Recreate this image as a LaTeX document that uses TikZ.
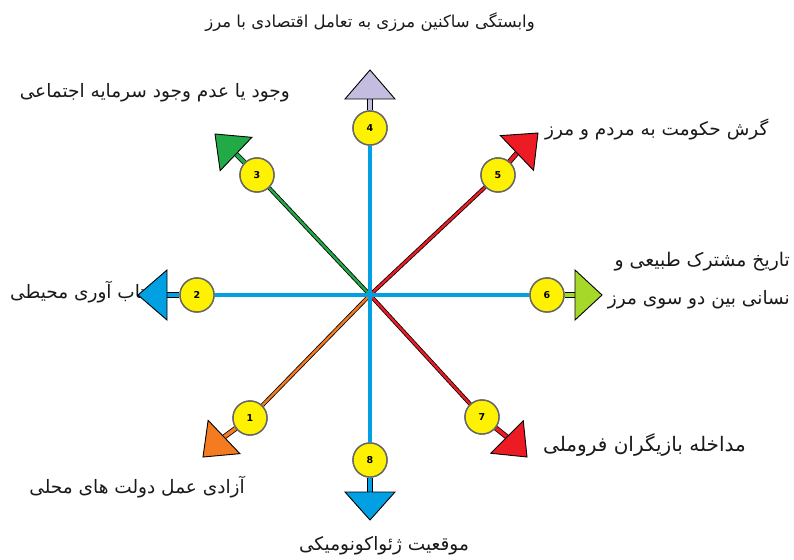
\documentclass[tikz,border=0pt]{standalone}
\usepackage{fontspec}
\usetikzlibrary{calc}
\TeXXeTstate=1
\newfontfamily\arabicfont[Script=Arabic]{DejaVu Sans}
\newfontfamily\numfont{DejaVu Sans}
\definecolor{cblue}{RGB}{0,160,226}
\definecolor{clav}{RGB}{196,189,224}
\definecolor{cgreen}{RGB}{34,170,70}
\definecolor{cred}{RGB}{237,28,36}
\definecolor{corange}{RGB}{244,123,32}
\definecolor{clime}{RGB}{166,216,42}
\definecolor{cyel}{RGB}{255,242,0}
\begin{document}
\begin{tikzpicture}[x=1pt,y=-1pt,
  numc/.style={circle, minimum size=34pt, inner sep=0pt, fill=cyel, draw=black!60, line width=1.4pt, font=\numfont\bfseries\fontsize{9.5}{10}\selectfont},
  diag/.style={draw=black, line width=0.8pt, double=#1, double distance=2.4pt},
  mainl/.style={draw=black!45, line width=0.5pt, double=cblue, double distance=3.8pt},
  stub/.style={draw=black, line width=0.8pt, double=#1, double distance=3.6pt},
  head/.style={draw=black, line width=0.9pt, fill=#1, line join=miter},
  lbl/.style={font=\arabicfont\fontsize{#1}{#1}\selectfont, text=black!90, inner sep=0pt},
  lbl/.default=18.5]
\useasboundingbox (0,0) rectangle (794,559);

% labels
\node[lbl=16.5] (L0) at (370,22) {\beginR وابستگی ساکنین مرزی به تعامل اقتصادی با مرز\endR};
\node[lbl, anchor=east] (L3) at (290,93) {\beginR وجود یا عدم وجود سرمایه اجتماعی\endR};
\node[lbl, anchor=west] (L5) at (545,129) {\beginR گرش حکومت به مردم و مرز\endR};
\node[lbl, anchor=west] (L2) at (10,292) {\beginR تاب آوری محیطی\endR};
\node[lbl=18.8, anchor=east] (L6a) at (790,262) {\beginR تاریخ مشترک طبیعی و\endR};
\node[lbl, anchor=east] (L6b) at (790,300) {\beginR نسانی بین دو سوی مرز\endR};
\node[lbl=20, anchor=west] (L7) at (543,445) {\beginR مداخله بازیگران فروملی\endR};
\node[lbl, anchor=east] (L1) at (245,487) {\beginR آزادی عمل دولت های محلی\endR};
\node[lbl] (L8) at (384,546) {\beginR موقعیت ژئواکونومیکی\endR};

% geometry
\coordinate (c) at (370,295);
\node[numc] (n1) at (250,418) {1};
\node[numc] (n2) at (197,295) {2};
\node[numc] (n3) at (257,175) {3};
\node[numc] (n4) at (370,128) {4};
\node[numc] (n5) at (498,175) {5};
\node[numc] (n6) at (547,295) {6};
\node[numc] (n7) at (482,417) {7};
\node[numc] (n8) at (370,460) {8};
\coordinate (b1) at (224,437); \coordinate (t1) at (203,457);
\coordinate (b2) at (167,295); \coordinate (t2) at (138,295);
\coordinate (b3) at (236,154); \coordinate (t3) at (215,134);
\coordinate (b4) at (370,99);  \coordinate (t4) at (370,70);
\coordinate (b5) at (517,153); \coordinate (t5) at (538,133);
\coordinate (b6) at (575,295); \coordinate (t6) at (602,295);
\coordinate (b7) at (507,437); \coordinate (t7) at (527,457);
\coordinate (b8) at (370,492); \coordinate (t8) at (370,520);

% shafts (diagonals first)
\draw[diag=corange] (c) -- (n1);
\draw[diag=cgreen] (c) -- (n3);
\draw[diag=cred] (c) -- (n5);
\draw[diag=cred] (c) -- (n7);
\draw[mainl] (c) -- (n2);
\draw[mainl, draw=clime] (c) -- (n6);
\draw[mainl, draw=clav] (c) -- (n4);
\draw[mainl, draw=black!60] (c) -- (n8);
\fill[cblue] (c) circle (3.5pt);

% stubs
\draw[stub=corange] (n1) -- (b1);
\draw[stub=cblue] (n2) -- (b2);
\draw[stub=cgreen] (n3) -- (b3);
\draw[stub=clav] (n4) -- (b4);
\draw[stub=cred] (n5) -- (b5);
\draw[stub=clime] (n6) -- (b6);
\draw[stub=cred] (n7) -- (b7);
\draw[stub=cblue] (n8) -- (b8);

% heads
\foreach \i/\col/\w in {1/corange/23,2/cblue/25,3/cgreen/23,4/clav/25,5/cred/24,6/clime/25,7/cred/23,8/cblue/25}{
  \draw[head=\col] (t\i) -- ($(b\i)!\w pt!90:(t\i)$) -- ($(b\i)!\w pt!-90:(t\i)$) -- cycle;
}

% redraw circles on top
\foreach \i/\x/\y in {1/250/418,2/197/295,3/257/175,4/370/128,5/498/175,6/547/295,7/482/417,8/370/460}{
  \node[numc] at (\x,\y) {\i};
}
\end{tikzpicture}
\end{document}
